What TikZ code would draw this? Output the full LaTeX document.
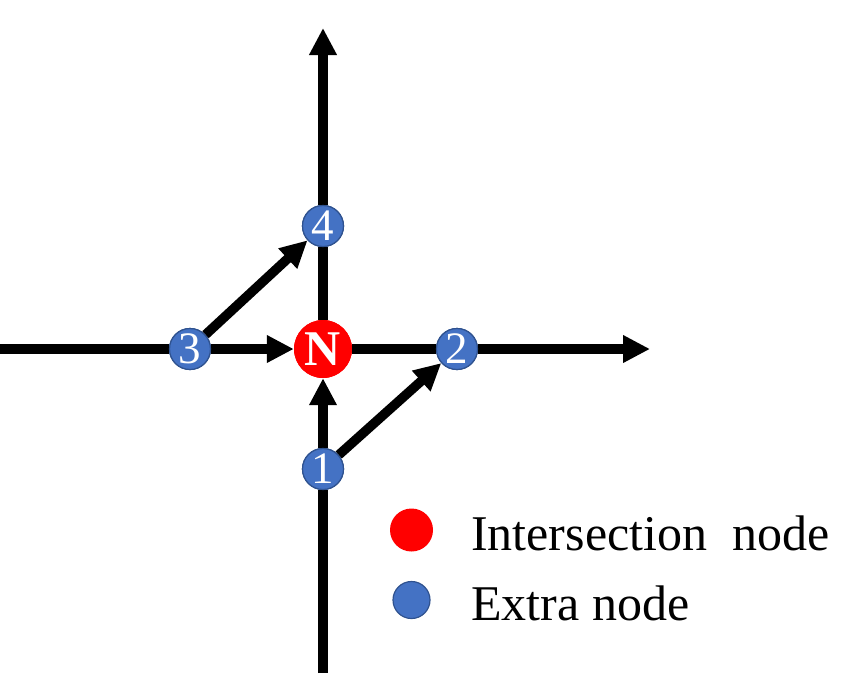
\documentclass[tikz,border=0pt]{standalone}
\usepackage{fontspec}
\setmainfont{Liberation Serif}
\usetikzlibrary{arrows.meta}
\definecolor{nodeblue}{HTML}{4472C4}
\definecolor{nodeblueedge}{HTML}{2F528F}
\begin{document}
\begin{tikzpicture}[x=1pt,y=-1pt,
  road/.style={line width=9.5pt,draw=black},
  arr/.style={road,-{Triangle[width=26pt,length=27pt]}},
  inter/.style={circle,fill=red,minimum size=58pt,inner sep=0pt,text=white,font=\fontsize{50}{50}\selectfont\bfseries},
  extra/.style={circle,fill=nodeblue,draw=nodeblueedge,line width=1.2pt,minimum size=41pt,inner sep=0pt,text=white,font=\fontsize{45}{45}\selectfont},
  legtext/.style={anchor=base west,inner sep=0pt,font=\fontsize{50}{50}\selectfont}]
\useasboundingbox (0,0) rectangle (859,673);
\coordinate (L) at (0,349);
\coordinate (R) at (650,349);
\coordinate (T) at (323,28);
\coordinate (B) at (323,673);
\node[inter] (N) at (323,349) {N};
\node[extra] (n1) at (323,469) {1};
\node[extra] (n2) at (457,349) {2};
\node[extra] (n3) at (190,349) {3};
\node[extra] (n4) at (323,226) {4};
% roads
\draw[road] (L) -- (n3.west);
\draw[arr] (n3) -- (N);
\draw[road] (N) -- (n2);
\draw[arr] (n2) -- (R);
\draw[road] (B) -- (n1.south);
\draw[arr] (n1) -- (N);
\draw[road] (N) -- (n4);
\draw[arr] (n4) -- (T);
\draw[arr] (n3) -- (n4);
\draw[arr] (n1) -- (n2);
% redraw nodes on top
\node[inter] at (N) {N};
\node[extra] at (n1) {1};
\node[extra] at (n2) {2};
\node[extra] at (n3) {3};
\node[extra] at (n4) {4};
% legend
\node[circle,fill=red,minimum size=43pt,inner sep=0pt] (legR) at (411.5,530) {};
\node[circle,fill=nodeblue,draw=nodeblueedge,line width=1.2pt,minimum size=37pt,inner sep=0pt] (legB) at (411.5,600) {};
\node[legtext] (legRt) at (471,550) {Intersection\ \ node};
\node[legtext] (legBt) at (471,620) {Extra node};
\end{tikzpicture}
\end{document}
